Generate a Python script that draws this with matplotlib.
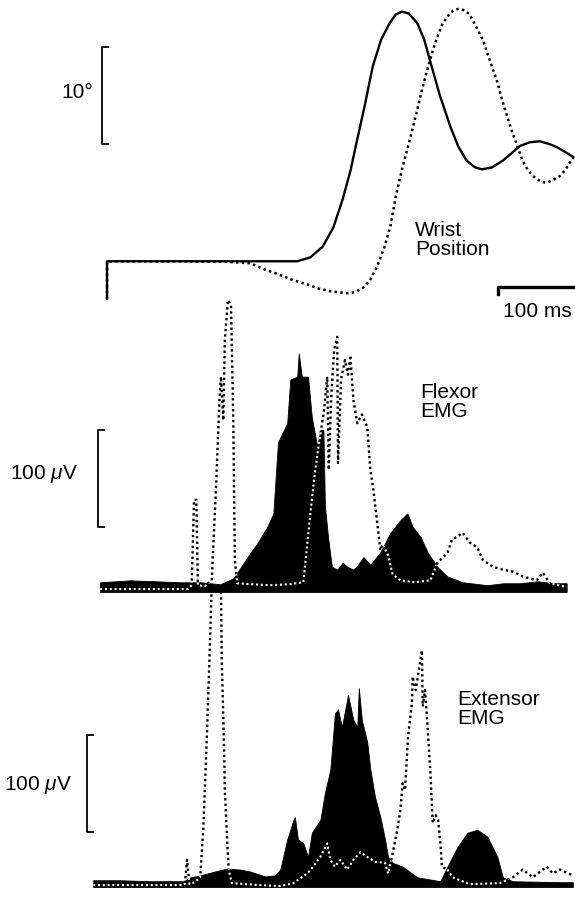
import matplotlib
matplotlib.use("Agg")
import matplotlib.pyplot as plt

plt.rcParams["font.family"] = ["Liberation Sans", "DejaVu Sans"]
plt.rcParams["mathtext.fontset"] = "custom"
plt.rcParams["mathtext.rm"] = "Liberation Sans"
plt.rcParams["mathtext.it"] = "Liberation Sans:italic"

# wrist position (deg) vs time (ms)
pos_t_agonist = [0, 0, 60, 120, 185, 247, 264, 280, 294, 306, 316, 325, 335, 345, 356, 367,
                 375, 383, 392, 403, 412, 420, 432, 446, 456, 467, 478, 487, 500, 514, 526,
                 536, 549, 562, 575, 584, 595, 605]
pos_agonist = [-3.9, 0, 0, 0, 0, 0, 0.4, 1.5, 3.5, 6.4, 9.3, 12.6, 16.2, 20.1, 22.9, 24.6,
               25.5, 25.8, 25.6, 24.6, 22.9, 20.6, 17.2, 13.9, 11.9, 10.4, 9.7, 9.5, 9.7, 10.4,
               11.2, 11.9, 12.3, 12.4, 12.1, 11.8, 11.3, 10.8]

pos_t_antagonist = [0, 0, 95, 153, 186, 203, 221, 240, 260, 274, 290, 301, 312, 322, 333, 342,
                    351, 360, 368, 375, 384, 394, 403, 409, 416, 422, 429, 436, 446, 452, 458,
                    465, 471, 479, 488, 497, 507, 513, 520, 526, 533, 539, 546, 552, 558, 565,
                    571, 579, 588, 595, 601, 608]
pos_antagonist = [-3.9, 0, 0, -0.05, -0.2, -0.8, -1.3, -1.9, -2.4, -2.8, -3.1, -3.2, -3.3, -3.2,
                  -2.7, -1.9, -0.5, 1.4, 3.6, 6.7, 9.8, 12.8, 15.7, 17.7, 19.8, 21.5, 23.2, 24.6,
                  25.7, 26.0, 26.1, 25.9, 25.5, 24.3, 22.9, 20.8, 18.5, 16.7, 14.9, 13.4, 11.9,
                  10.5, 9.5, 8.9, 8.5, 8.2, 8.1, 8.4, 8.8, 9.4, 10.2, 11.0]

# flexor EMG (uV)
flex_t = [-9, 30, 65, 95, 121, 147, 164, 186, 195, 208, 216, 222, 234, 238, 247, 249, 253, 261,
          266, 273, 277, 281, 283, 287, 292, 299, 306, 312, 320, 326, 333, 342, 355, 368, 381,
          390, 397, 407, 417, 429, 442, 462, 494, 515, 536, 560, 580, 597]
flex_emg = [10, 12, 11, 10, 10, 8, 14, 40, 50, 67, 81, 154, 174, 219, 222, 246, 222, 222, 180,
            150, 167, 167, 88, 57, 26, 23, 30, 26, 23, 28, 36, 28, 41, 61, 74, 81, 67, 57, 40,
            26, 16, 10, 7, 9, 9, 11, 9, 9]

flex_t_other = [-9, 56, 105, 110, 113, 116, 118, 127, 136, 142, 146, 148, 151, 153, 157, 161,
                164, 166, 169, 186, 212, 238, 255, 261, 266, 270, 274, 278, 282, 286, 288, 291,
                295, 299, 300, 304, 309, 313, 316, 320, 325, 331, 338, 342, 346, 351, 355, 358,
                365, 371, 381, 400, 420, 429, 442, 448, 455, 462, 471, 481, 488, 501, 514, 527,
                540, 558, 566, 575, 597]
flex_emg_other = [3, 3, 3, 7, 95, 95, 7, 6, 12, 116, 198, 222, 177, 260, 301, 296, 177, 33, 9,
                  8, 7, 8, 10, 57, 95, 123, 146, 167, 188, 222, 126, 198, 250, 263, 133, 219,
                  239, 224, 244, 198, 174, 183, 170, 126, 105, 71, 43, 49, 38, 18, 12, 10, 12,
                  30, 40, 54, 57, 61, 51, 46, 33, 26, 23, 21, 16, 12, 20, 9, 5]

# extensor EMG (uV)
ext_t = [-18, 17, 56, 99, 108, 121, 140, 156, 173, 186, 205, 218, 225, 234, 242, 244, 248, 255,
         261, 266, 277, 283, 290, 296, 300, 305, 313, 320, 325, 327, 331, 338, 342, 348, 355,
         361, 365, 371, 384, 403, 433, 442, 455, 468, 481, 494, 507, 514, 527, 588, 605]
ext_emg = [7, 7, 6, 6, 10, 12, 16, 19, 18, 16, 11, 12, 18, 49, 69, 72, 49, 45, 31, 56, 69, 97,
           121, 179, 183, 165, 198, 172, 165, 205, 172, 149, 121, 93, 72, 49, 31, 25, 21, 10,
           6, 21, 41, 56, 59, 52, 31, 10, 6, 5, 5]

ext_t_other = [-18, 56, 99, 101, 104, 107, 114, 121, 125, 129, 133, 136, 140, 148, 149, 151,
               152, 153, 156, 158, 162, 199, 225, 242, 260, 268, 277, 286, 290, 296, 303, 312,
               320, 329, 338, 348, 361, 365, 370, 377, 381, 384, 387, 391, 396, 397, 401, 405,
               409, 410, 413, 416, 420, 423, 427, 430, 433, 435, 442, 449, 471, 510, 527, 540,
               553, 571, 579, 588, 605]
ext_emg_other = [2, 2, 2, 3, 28, 3, 5, 10, 59, 141, 234, 311, 311, 311, 234, 175, 144, 100, 49,
                 18, 4, 2, 1, 4, 14, 21, 31, 45, 28, 21, 28, 18, 28, 36, 31, 26, 25, 14, 31, 59,
                 79, 107, 100, 155, 190, 217, 203, 224, 244, 186, 203, 169, 118, 66, 74, 69, 45,
                 21, 18, 10, 3, 4, 10, 18, 10, 21, 14, 18, 12]

fig = plt.figure(figsize=(5.75, 8.98), dpi=100)
t_lim = (-139, 607.8)
dots = (0, (1.0, 1.3))


def panel(ylim):
    ax = fig.add_axes([0, 0, 1, 1])
    ax.set_xlim(*t_lim)
    ax.set_ylim(*ylim)
    ax.axis("off")
    return ax


def emg_traces(ax, t, emg, t2, emg2):
    ax.plot(t2, emg2, color="black", lw=1.7, linestyle=dots, zorder=1)
    poly = ax.fill_between(t, emg, 0, color="black", lw=0.6, zorder=2)
    inner, = ax.plot(t2, emg2, color="white", lw=1.5, linestyle=dots, zorder=3)
    inner.set_clip_path(poly.get_paths()[0], ax.transData)


# wrist position
ax_pos = panel((-65.8, 27.0))
ax_pos.plot(pos_t_agonist, pos_agonist, color="black", lw=1.7, solid_joinstyle="round")
ax_pos.plot(pos_t_antagonist, pos_antagonist, color="black", lw=1.8, linestyle=dots)
ax_pos.plot([1.3, -6.5, -6.5, 1.3], [12.1, 12.1, 22.1, 22.1], color="black", lw=1.3)
ax_pos.text(-18, 17.4, "10°", ha="right", va="center", fontsize=15)
ax_pos.plot([507.8, 507.8, 607.8], [-3.4, -2.7, -2.7], color="black", lw=2.4,
            clip_on=False)
ax_pos.text(514, -5.2, "100 ms", ha="left", va="center", fontsize=15)
ax_pos.text(400, 2.2, "Wrist\nPosition", ha="left", va="center", fontsize=15,
            linespacing=1.0)

# extensor EMG (drawn before the flexor so the flexor baseline sits on top)
ax_ext = panel((-11.3, 914.4))
emg_traces(ax_ext, ext_t, ext_emg, ext_t_other, ext_emg_other)
ax_ext.plot([-18, -26, -26, -18], [56.7, 56.7, 156.7, 156.7], color="black", lw=1.3)
ax_ext.text(-45.5, 105, "100 $\\mu$V", ha="right", va="center", fontsize=15)
ax_ext.text(454.5, 184, "Extensor\nEMG", ha="left", va="center", fontsize=15,
            linespacing=1.0)

# flexor EMG
ax_flex = panel((-315.5, 610.3))
emg_traces(ax_flex, flex_t, flex_emg, flex_t_other, flex_emg_other)
ax_flex.plot([-3.9, -11.7, -11.7, -3.9], [67, 67, 167, 167], color="black", lw=1.3)
ax_flex.text(-37.7, 122, "100 $\\mu$V", ha="right", va="center", fontsize=15)
ax_flex.text(406.5, 196, "Flexor\nEMG", ha="left", va="center", fontsize=15,
             linespacing=1.0)

fig.savefig("out.png", dpi=100)
